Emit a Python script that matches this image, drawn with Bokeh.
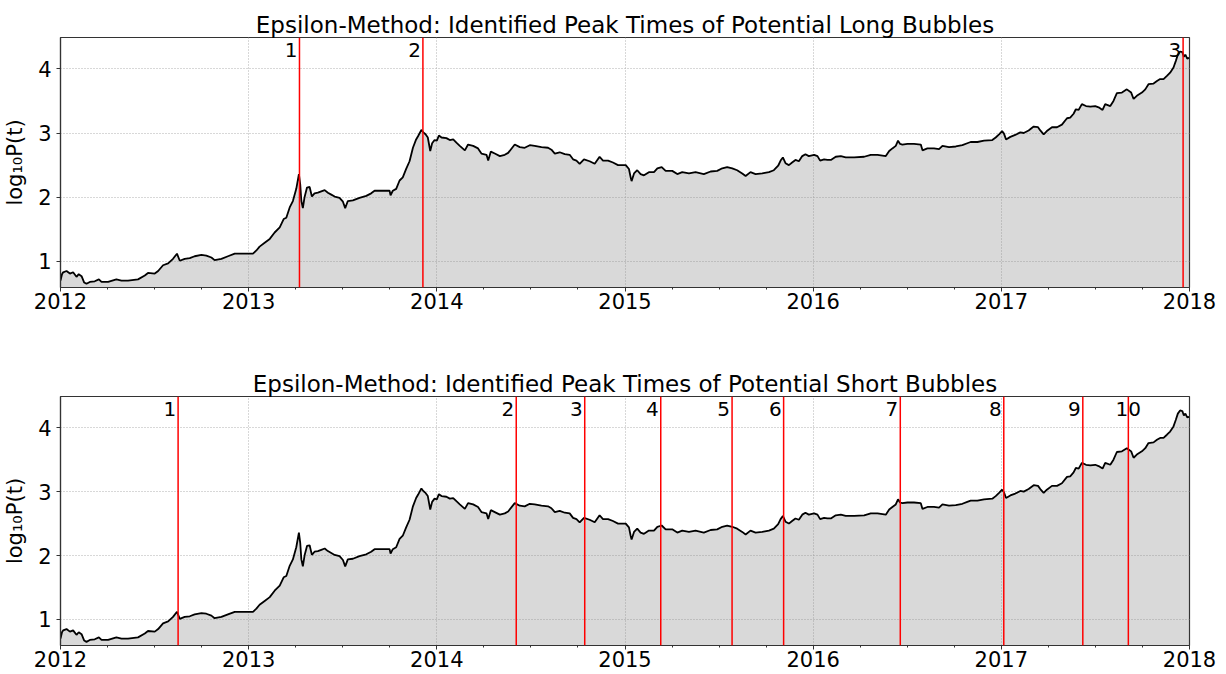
import numpy as np
from bokeh.plotting import figure
from bokeh.models import FixedTicker, Span, Range1d
from bokeh.layouts import column
from bokeh.embed import file_html
from bokeh.resources import INLINE
from bokeh.core.properties import value

# ---------------- data: time (decimal years) and log10 price ----------------
t_2012 = [2012.000, 2012.008, 2012.014, 2012.032, 2012.050, 2012.067, 2012.085, 2012.097,
          2012.112, 2012.126, 2012.138, 2012.156, 2012.182, 2012.204, 2012.218, 2012.253,
          2012.297, 2012.324, 2012.359, 2012.412, 2012.448, 2012.465, 2012.501, 2012.519,
          2012.545, 2012.572, 2012.598, 2012.619, 2012.634, 2012.660, 2012.687, 2012.713,
          2012.749, 2012.775, 2012.802, 2012.819, 2012.855, 2012.890, 2012.926, 2012.961]
v_2012 = [0.70, 0.80, 0.83, 0.85, 0.81, 0.83, 0.76, 0.80,
          0.77, 0.67, 0.65, 0.68, 0.69, 0.72, 0.68, 0.68,
          0.72, 0.70, 0.70, 0.72, 0.78, 0.82, 0.81, 0.85,
          0.94, 0.97, 1.04, 1.12, 1.01, 1.04, 1.05, 1.08,
          1.10, 1.09, 1.06, 1.02, 1.04, 1.08, 1.12, 1.12]

t_2013 = [2013.000, 2013.023, 2013.041, 2013.058, 2013.085, 2013.112, 2013.138, 2013.165,
          2013.186, 2013.200, 2013.218, 2013.235, 2013.253, 2013.267, 2013.274, 2013.280,
          2013.288, 2013.297, 2013.310, 2013.324, 2013.336, 2013.350, 2013.368, 2013.386,
          2013.404, 2013.421, 2013.439, 2013.457, 2013.483, 2013.501, 2013.513, 2013.527,
          2013.554, 2013.589, 2013.625, 2013.651, 2013.669, 2013.696, 2013.722, 2013.749,
          2013.754, 2013.766, 2013.784, 2013.802, 2013.819, 2013.837, 2013.855, 2013.873,
          2013.890, 2013.900, 2013.918, 2013.928, 2013.940, 2013.952, 2013.965, 2013.975,
          2013.988]
v_2013 = [1.12, 1.12, 1.17, 1.23, 1.29, 1.35, 1.45, 1.53,
          1.66, 1.68, 1.84, 1.94, 2.13, 2.36, 2.20, 1.94,
          1.83, 2.00, 2.15, 2.16, 2.01, 2.06, 2.07, 2.09,
          2.11, 2.07, 2.04, 2.01, 1.99, 1.93, 1.83, 1.94,
          1.95, 1.99, 2.02, 2.06, 2.10, 2.10, 2.10, 2.10,
          2.03, 2.10, 2.13, 2.26, 2.31, 2.44, 2.56, 2.77,
          2.90, 2.95, 3.05, 3.01, 2.98, 2.93, 2.72, 2.84,
          2.89]

t_2014 = [2014.000, 2014.011, 2014.025, 2014.051, 2014.069, 2014.087, 2014.104, 2014.122,
          2014.149, 2014.166, 2014.193, 2014.219, 2014.237, 2014.264, 2014.273, 2014.287,
          2014.308, 2014.335, 2014.361, 2014.379, 2014.414, 2014.441, 2014.467, 2014.494,
          2014.520, 2014.556, 2014.591, 2014.609, 2014.627, 2014.653, 2014.680, 2014.706,
          2014.724, 2014.742, 2014.759, 2014.782, 2014.812, 2014.839, 2014.865, 2014.883,
          2014.910, 2014.936, 2014.963, 2014.989]
v_2014 = [2.88, 2.96, 2.93, 2.92, 2.89, 2.90, 2.85, 2.80,
          2.73, 2.82, 2.80, 2.76, 2.68, 2.66, 2.57, 2.71,
          2.68, 2.64, 2.66, 2.69, 2.82, 2.78, 2.77, 2.81,
          2.80, 2.78, 2.77, 2.74, 2.68, 2.70, 2.67, 2.66,
          2.59, 2.57, 2.52, 2.59, 2.56, 2.52, 2.63, 2.57,
          2.57, 2.54, 2.50, 2.50]

t_2015 = [2015.004, 2015.021, 2015.030, 2015.035, 2015.048, 2015.065, 2015.083, 2015.101,
          2015.127, 2015.154, 2015.172, 2015.195, 2015.216, 2015.251, 2015.278, 2015.304,
          2015.340, 2015.375, 2015.419, 2015.455, 2015.490, 2015.517, 2015.543, 2015.570,
          2015.596, 2015.623, 2015.641, 2015.667, 2015.694, 2015.729, 2015.765, 2015.791,
          2015.814, 2015.827, 2015.839, 2015.853, 2015.871, 2015.888, 2015.906, 2015.924,
          2015.942, 2015.959, 2015.977]
v_2015 = [2.50, 2.44, 2.31, 2.25, 2.37, 2.42, 2.36, 2.34,
          2.39, 2.39, 2.45, 2.47, 2.41, 2.41, 2.36, 2.39,
          2.37, 2.39, 2.36, 2.40, 2.41, 2.45, 2.47, 2.45,
          2.42, 2.37, 2.33, 2.39, 2.36, 2.37, 2.39, 2.42,
          2.49, 2.57, 2.62, 2.53, 2.50, 2.54, 2.58, 2.56,
          2.64, 2.67, 2.64]

t_2016 = [2016.005, 2016.023, 2016.037, 2016.058, 2016.076, 2016.094, 2016.120, 2016.147,
          2016.173, 2016.218, 2016.271, 2016.306, 2016.342, 2016.386, 2016.404, 2016.421,
          2016.439, 2016.451, 2016.462, 2016.474, 2016.501, 2016.536, 2016.572, 2016.581,
          2016.607, 2016.642, 2016.669, 2016.687, 2016.722, 2016.758, 2016.793, 2016.819,
          2016.837, 2016.873, 2016.908, 2016.952, 2016.970, 2016.988]
v_2016 = [2.66, 2.64, 2.57, 2.59, 2.58, 2.58, 2.63, 2.64,
          2.62, 2.62, 2.63, 2.66, 2.66, 2.64, 2.72, 2.76,
          2.80, 2.88, 2.83, 2.82, 2.83, 2.83, 2.82, 2.73,
          2.76, 2.76, 2.75, 2.80, 2.78, 2.79, 2.81, 2.84,
          2.86, 2.86, 2.88, 2.89, 2.93, 2.98]

t_2017 = [2017.004, 2017.014, 2017.025, 2017.048, 2017.074, 2017.101, 2017.119, 2017.145,
          2017.172, 2017.195, 2017.207, 2017.225, 2017.242, 2017.269, 2017.296, 2017.322,
          2017.349, 2017.366, 2017.384, 2017.396, 2017.411, 2017.428, 2017.450, 2017.473,
          2017.499, 2017.517, 2017.538, 2017.552, 2017.579, 2017.596, 2017.614, 2017.641,
          2017.667, 2017.690, 2017.703, 2017.720, 2017.747, 2017.765, 2017.782, 2017.809,
          2017.827, 2017.844, 2017.862, 2017.880, 2017.897, 2017.915, 2017.927, 2017.938,
          2017.950, 2017.962, 2017.970, 2017.978, 2017.988, 2017.998]
v_2017 = [3.03, 2.99, 2.90, 2.94, 2.97, 3.01, 3.00, 3.04,
          3.10, 3.09, 3.04, 2.98, 3.03, 3.09, 3.09, 3.13,
          3.23, 3.24, 3.30, 3.37, 3.36, 3.45, 3.42, 3.41,
          3.42, 3.40, 3.36, 3.45, 3.42, 3.50, 3.62, 3.63,
          3.68, 3.63, 3.53, 3.58, 3.63, 3.68, 3.76, 3.77,
          3.81, 3.84, 3.84, 3.89, 3.94, 4.02, 4.12, 4.22,
          4.27, 4.26, 4.19, 4.22, 4.16, 4.17]

# identified peak times (decimal years)
long_peaks = [2013.270, 2013.926, 2017.966]
long_names = ["1", "2", "3"]
short_peaks = [2012.625, 2014.422, 2014.786, 2015.190, 2015.569, 2015.843,
               2016.463, 2017.013, 2017.433, 2017.675]
short_names = ["1", "2", "3", "4", "5", "6", "7", "8", "9", "10"]

year_ticks = [2012, 2013, 2014, 2015, 2016, 2017, 2018]
y_ticks = [1, 2, 3, 4]

t = np.array(t_2012 + t_2013 + t_2014 + t_2015 + t_2016 + t_2017)
v = np.array(v_2012 + v_2013 + v_2014 + v_2015 + v_2016 + v_2017)

FONT = "DejaVu Sans"
FRAME = "#333333"
LABEL_Y = 4.30


def panel(title, peaks, names, height, b_top, b_bottom):
    p = figure(width=1226, height=height,
               x_range=Range1d(2012, 2018), y_range=Range1d(0.593, 4.488),
               output_backend="svg", toolbar_location=None,
               min_border_left=59, min_border_right=37,
               min_border_top=b_top, min_border_bottom=b_bottom)
    p.title.text = title
    p.title.align = "center"
    p.title.text_font = FONT
    p.title.text_font_size = "23px"
    p.title.text_font_style = "normal"
    p.title.text_color = "black"
    p.title.standoff = 0

    p.varea(x=t, y1=0, y2=v, fill_color="grey", fill_alpha=0.3)
    p.line(t, v, line_color="black", line_width=1.8)

    for pk in peaks:
        p.add_layout(Span(location=pk, dimension="height", line_color="red",
                          line_width=1.5))

    right_idx = [i for i, n in enumerate(names) if len(n) == 1]
    cent_idx = [i for i, n in enumerate(names) if len(n) > 1]
    p.text(x=[peaks[i] for i in right_idx], y=[LABEL_Y] * len(right_idx),
           text=[names[i] for i in right_idx], text_align="right", x_offset=-2,
           text_baseline="alphabetic", text_font=value(FONT),
           text_font_size="20px", text_color="black")
    if cent_idx:
        p.text(x=[peaks[i] for i in cent_idx], y=[LABEL_Y] * len(cent_idx),
               text=[names[i] for i in cent_idx], text_align="center",
               text_baseline="alphabetic", text_font=value(FONT),
               text_font_size="20px", text_color="black")

    p.xaxis.ticker = FixedTicker(ticks=year_ticks,
                                 minor_ticks=[y + q for y in year_ticks[:-1] for q in (0.25, 0.5, 0.75)])
    p.xaxis.major_label_overrides = {y: str(y) for y in year_ticks}
    p.yaxis.ticker = FixedTicker(ticks=y_ticks)
    p.yaxis.major_label_overrides = {y: str(y) for y in y_ticks}

    for ax in (p.xaxis[0], p.yaxis[0]):
        ax.major_label_text_font = FONT
        ax.major_label_text_font_size = "21px"
        ax.major_label_text_color = "black"
        ax.axis_line_color = FRAME
        ax.axis_line_width = 1.2
        ax.major_tick_line_color = FRAME
        ax.major_tick_in = 0
        ax.major_tick_out = 4
        ax.minor_tick_line_color = FRAME
        ax.minor_tick_in = 0
        ax.minor_tick_out = 2
    p.xaxis.major_label_standoff = 1
    p.yaxis.major_label_standoff = 5
    p.yaxis.minor_tick_line_color = None
    p.yaxis.axis_label = "log\u2081\u2080P(t)"
    p.yaxis.axis_label_text_font = FONT
    p.yaxis.axis_label_text_font_size = "21px"
    p.yaxis.axis_label_text_font_style = "normal"
    p.yaxis.axis_label_text_color = "black"
    p.yaxis.axis_label_standoff = 8

    p.grid.grid_line_color = "#b0b0b0"
    p.grid.grid_line_dash = "1 2"
    p.grid.grid_line_width = 1
    p.outline_line_color = FRAME
    p.outline_line_width = 1.2
    p.background_fill_color = "white"
    p.border_fill_color = "white"
    return p


p1 = panel("Epsilon-Method: Identified Peak Times of Potential Long Bubbles",
           long_peaks, long_names, 337, 37, 50)
p2 = panel("Epsilon-Method: Identified Peak Times of Potential Short Bubbles",
           short_peaks, short_names, 337, 59, 29)

layout = column(p1, p2, spacing=0)
open("out.html", "w").write(file_html(layout, INLINE))
